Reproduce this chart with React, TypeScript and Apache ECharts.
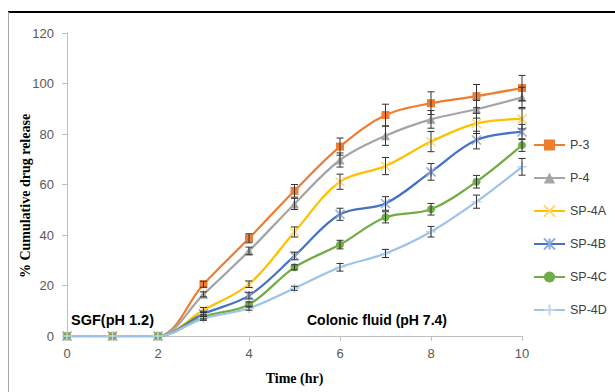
import React, { useEffect, useRef } from "react";
import * as echarts from "echarts";

// Dissolution time points (hr)
const hours = [0, 1, 2, 3, 4, 5, 6, 7, 8, 9, 10];
const xTicks = [0, 2, 4, 6, 8, 10];
const yTicks = [0, 20, 40, 60, 80, 100, 120];

// Mean cumulative release (%)
const p3 = [0, 0, 0, 20.5, 38.7, 57.5, 75, 87.5, 92.2, 95, 98.2];
const p4 = [0, 0, 0, 16.5, 33.7, 52.3, 69.7, 79.3, 85.8, 89.8, 94.5];
const sp4a = [0, 0, 0, 10.3, 20.5, 41.2, 61.1, 67.3, 77, 84.2, 86];
const sp4b = [0, 0, 0, 8.8, 16, 31.7, 48.2, 52.5, 65, 77.6, 80.8];
const sp4c = [0, 0, 0, 7.6, 12.5, 27.2, 36.2, 47, 50.2, 61.1, 75.6];
const sp4d = [0, 0, 0, 7, 11, 18.9, 27.2, 32.7, 41.3, 53.2, 67];

// Standard deviations
const p3Err = [0, 0, 0, 1.2, 1.8, 2.5, 3.4, 4.3, 4.5, 4.6, 5];
const p4Err = [0, 0, 0, 1, 1.5, 2.2, 2.8, 3.8, 3.5, 3.5, 4];
const sp4aErr = [0, 0, 0, 1, 1.3, 2, 3, 3.4, 4, 4, 4];
const sp4bErr = [0, 0, 0, 1, 1.3, 1.5, 2.4, 2.7, 3.3, 3.5, 3];
const sp4cErr = [0, 0, 0, 0.8, 1, 1, 1.7, 2.2, 2.3, 2.5, 2.5];
const sp4dErr = [0, 0, 0, 0.8, 0.8, 0.8, 1.5, 1.6, 2.1, 2.6, 3.3];

const seriesNames = ["P-3", "P-4", "SP-4A", "SP-4B", "SP-4C", "SP-4D"];
const seriesValues = [p3, p4, sp4a, sp4b, sp4c, sp4d];
const seriesErrors = [p3Err, p4Err, sp4aErr, sp4bErr, sp4cErr, sp4dErr];
const lineColors = ["#ED7D31", "#A5A5A5", "#FFC000", "#4472C4", "#70AD47", "#9DC3E6"];
const markerColors = ["#ED7D31", "#A5A5A5", "#FFD866", "#8FAADC", "#70AD47", "#BDD7EE"];

const symbolCross = "path://M0,0L10,10M10,0L0,10";
const symbolStar = "path://M0,0L10,10M10,0L0,10M5,0L5,10";
const symbolPlus = "path://M5,0L5,10M0,5L10,5";
const symbols = ["rect", "triangle", symbolCross, symbolStar, "circle", symbolPlus];
const symbolSizes = [8, 9, 9, 9, 8, 10];
const strokedSymbol = [false, false, true, true, false, true];

const labelFont = "'Liberation Sans', Arial, sans-serif";
const serifFont = "'Liberation Serif', 'Times New Roman', serif";

export default function App() {
  const ref = useRef<HTMLDivElement>(null);

  useEffect(() => {
    if (!ref.current) return;
    const chart = echarts.init(ref.current, undefined, { renderer: "svg" });

    const lineSeries = seriesNames.map((name, i) => ({
      name,
      type: "line",
      data: hours.map((h, j) => [h, seriesValues[i][j]]),
      smooth: 0.35,
      symbol: symbols[i],
      symbolSize: symbolSizes[i],
      showAllSymbol: true,
      lineStyle: { color: lineColors[i], width: 2.25 },
      itemStyle: strokedSymbol[i]
        ? { color: "rgba(0,0,0,0)", borderColor: markerColors[i], borderWidth: 1.5 }
        : { color: markerColors[i], borderColor: markerColors[i], borderWidth: 0 },
      z: 3,
    }));

    const errorSeries = seriesNames.map((name, i) => ({
      name: name + " SD",
      type: "custom",
      data: hours
        .map((h, j) => [h, seriesValues[i][j] - seriesErrors[i][j], seriesValues[i][j] + seriesErrors[i][j], seriesErrors[i][j]])
        .filter((d) => d[3] > 0),
      encode: { x: 0, y: [1, 2] },
      renderItem: (params: any, api: any) => {
        const x = api.value(0);
        const top = api.coord([x, api.value(2)]);
        const bot = api.coord([x, api.value(1)]);
        const hw = 3.5;
        const style = { stroke: "#333333", lineWidth: 1 };
        return {
          type: "group",
          children: [
            { type: "line", shape: { x1: top[0], y1: top[1], x2: bot[0], y2: bot[1] }, style },
            { type: "line", shape: { x1: top[0] - hw, y1: top[1], x2: top[0] + hw, y2: top[1] }, style },
            { type: "line", shape: { x1: bot[0] - hw, y1: bot[1], x2: bot[0] + hw, y2: bot[1] }, style },
          ],
        };
      },
      z: 4,
      silent: true,
    }));

    chart.setOption({
      animation: false,
      backgroundColor: "#ffffff",
      grid: { left: 67, right: 93, top: 33, bottom: 56 },
      legend: {
        data: seriesNames,
        orient: "vertical",
        left: 528,
        top: 133,
        itemWidth: 31,
        itemHeight: 14,
        itemGap: 19,
        textStyle: { fontFamily: labelFont, fontSize: 12.5, color: "#404040", lineHeight: 14 },
      },
      xAxis: {
        type: "value",
        min: 0,
        max: 10,
        interval: 2,
        axisLine: { show: true, lineStyle: { color: "#bfbfbf", width: 1 } },
        axisTick: { show: true, length: 5, lineStyle: { color: "#bfbfbf" } },
        splitLine: { show: false },
        axisLabel: {
          margin: 11,
          fontFamily: labelFont,
          fontSize: 13,
          color: "#595959",
          formatter: (v: number) => (xTicks.includes(v) ? String(v) : ""),
        },
      },
      yAxis: {
        type: "value",
        min: 0,
        max: 120,
        interval: 20,
        axisLine: { show: true, lineStyle: { color: "#bfbfbf", width: 1 } },
        axisTick: { show: true, length: 5, lineStyle: { color: "#bfbfbf" } },
        splitLine: { show: false },
        axisLabel: {
          margin: 13,
          fontFamily: labelFont,
          fontSize: 13,
          color: "#595959",
          formatter: (v: number) => (yTicks.includes(v) ? String(v) : ""),
        },
      },
      graphic: [
        { type: "line", shape: { x1: 8, y1: 12, x2: 615, y2: 12 }, style: { stroke: "#000000", lineWidth: 2 } },
        { type: "line", shape: { x1: 8.5, y1: 12, x2: 8.5, y2: 392 }, style: { stroke: "#a6a6a6", lineWidth: 1 } },
        {
          type: "text",
          x: 25,
          y: 196,
          rotation: Math.PI / 2,
          style: {
            text: "% Cumulative drug release",
            font: `bold 14px ${serifFont}`,
            fill: "#000000",
            textAlign: "center",
            textVerticalAlign: "middle",
          },
        },
        {
          type: "text",
          x: 294.5,
          y: 378,
          style: {
            text: "Time (hr)",
            font: `bold 14px ${serifFont}`,
            fill: "#000000",
            textAlign: "center",
            textVerticalAlign: "middle",
          },
        },
        {
          type: "text",
          x: 71,
          y: 320,
          style: {
            text: "SGF(pH 1.2)",
            font: `bold 14.5px ${labelFont}`,
            fill: "#000000",
            textAlign: "left",
            textVerticalAlign: "middle",
          },
        },
        {
          type: "text",
          x: 307,
          y: 320,
          style: {
            text: "Colonic fluid (pH 7.4)",
            font: `bold 14px ${labelFont}`,
            fill: "#000000",
            textAlign: "left",
            textVerticalAlign: "middle",
          },
        },
      ],
      series: [...lineSeries, ...errorSeries],
    });

    return () => chart.dispose();
  }, []);

  return (
    <div
      ref={ref}
      style={{ position: "fixed", left: 0, top: 0, width: 615, height: 392, background: "#fff" }}
    />
  );
}
